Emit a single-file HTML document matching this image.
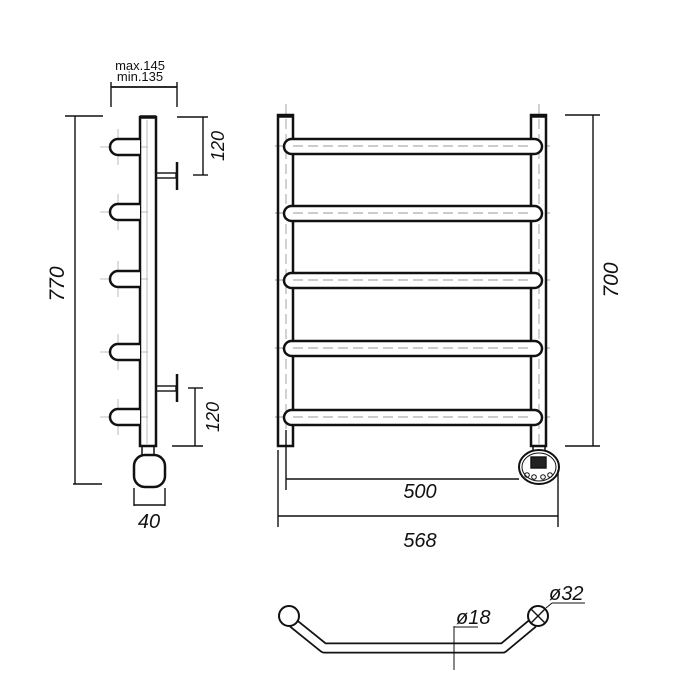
<!DOCTYPE html>
<html><head><meta charset="utf-8"><style>
html,body{margin:0;padding:0;background:#fff}
svg{display:block}
text{font-family:"Liberation Sans",sans-serif;fill:#111}
</style></head><body>
<svg width="700" height="700" viewBox="0 0 700 700" xmlns="http://www.w3.org/2000/svg">
<rect width="700" height="700" fill="#fff"/>
<g stroke="#111" fill="none" stroke-width="1.4">
<line x1="111" y1="87" x2="177" y2="87" stroke-width="1.8"/>
<line x1="111" y1="82" x2="111" y2="107"/>
<line x1="177" y1="82" x2="177" y2="107"/>
<line x1="75" y1="116" x2="75" y2="484"/>
<line x1="65" y1="116" x2="103" y2="116"/>
<line x1="73" y1="484" x2="102" y2="484"/>
<g stroke="#aaa" stroke-width="0.8">
<line x1="100" y1="147" x2="148" y2="147"/><line x1="118" y1="129" x2="118" y2="165"/>
<line x1="100" y1="212" x2="148" y2="212"/><line x1="118" y1="194" x2="118" y2="230"/>
<line x1="100" y1="279" x2="148" y2="279"/><line x1="118" y1="261" x2="118" y2="297"/>
<line x1="100" y1="352" x2="148" y2="352"/><line x1="118" y1="334" x2="118" y2="370"/>
<line x1="100" y1="417" x2="148" y2="417"/><line x1="118" y1="399" x2="118" y2="435"/>
<line x1="147" y1="120" x2="147" y2="444"/>
</g>
<path d="M140 117 H156 V446 H140 Z" stroke-width="2.5"/>
<line x1="140" y1="117" x2="156" y2="117" stroke-width="3.5"/>
<g stroke-width="2.5" fill="#fff">
<path d="M140 139 H118 A8 8 0 0 0 118 155 H140"/>
<path d="M140 204 H118 A8 8 0 0 0 118 220 H140"/>
<path d="M140 271 H118 A8 8 0 0 0 118 287 H140"/>
<path d="M140 344 H118 A8 8 0 0 0 118 360 H140"/>
<path d="M140 409 H118 A8 8 0 0 0 118 425 H140"/>
</g>
<rect x="156" y="173" width="20" height="5"/>
<path d="M177 162 V190" stroke-width="2.5"/>
<rect x="156" y="386" width="20" height="5"/>
<path d="M177 374 V402" stroke-width="2.5"/>
<line x1="177" y1="117" x2="208" y2="117"/>
<line x1="203" y1="117" x2="203" y2="175"/>
<line x1="193" y1="175" x2="208" y2="175"/>
<line x1="188" y1="388" x2="203" y2="388"/>
<line x1="195" y1="388" x2="195" y2="446"/>
<line x1="172" y1="446" x2="203" y2="446"/>
<rect x="142" y="446" width="12" height="9" stroke-width="1.5"/>
<rect x="134" y="455" width="31" height="32" rx="11" stroke-width="2.5"/>
<line x1="134" y1="488" x2="134" y2="506"/>
<line x1="165" y1="488" x2="165" y2="506"/>
<line x1="134" y1="505" x2="165" y2="505"/>

<g stroke="#999" stroke-width="0.9" stroke-dasharray="10 5">
<line x1="286" y1="104" x2="286" y2="450"/>
<line x1="539" y1="104" x2="539" y2="450"/>
<line x1="275" y1="146" x2="550" y2="146"/>
<line x1="275" y1="213" x2="550" y2="213"/>
<line x1="275" y1="280" x2="550" y2="280"/>
<line x1="275" y1="348" x2="550" y2="348"/>
<line x1="275" y1="417" x2="550" y2="417"/>
</g>
<path d="M278 115 H293 V446 H278 Z" stroke-width="2.5"/>
<path d="M531 115 H546 V446 H531 Z" stroke-width="2.5"/>
<line x1="279" y1="116" x2="292" y2="116" stroke-width="3.5"/>
<line x1="532" y1="116" x2="545" y2="116" stroke-width="3.5"/>
<g stroke-width="2.5">
<rect x="284" y="139" width="258" height="15" rx="7.5" fill="#fff"/>
<rect x="284" y="206" width="258" height="15" rx="7.5" fill="#fff"/>
<rect x="284" y="273" width="258" height="15" rx="7.5" fill="#fff"/>
<rect x="284" y="341" width="258" height="15" rx="7.5" fill="#fff"/>
<rect x="284" y="410" width="258" height="15" rx="7.5" fill="#fff"/>
</g>
<g stroke="#999" stroke-width="0.9" stroke-dasharray="10 5">
<line x1="293" y1="146" x2="531" y2="146"/>
<line x1="293" y1="213" x2="531" y2="213"/>
<line x1="293" y1="280" x2="531" y2="280"/>
<line x1="293" y1="348" x2="531" y2="348"/>
<line x1="293" y1="417" x2="531" y2="417"/>
</g>
<rect x="533" y="446" width="12" height="9" stroke-width="1.5"/>
<ellipse cx="539" cy="467" rx="20" ry="17" stroke-width="2" fill="#fff"/>
<ellipse cx="539" cy="467" rx="17" ry="14" stroke-width="1"/>
<rect x="531" y="457" width="15" height="11" fill="#222"/>
<circle cx="527" cy="475" r="2.3" stroke-width="1"/><circle cx="534" cy="477" r="2.3" stroke-width="1"/>
<circle cx="543" cy="477" r="2.3" stroke-width="1"/><circle cx="550" cy="475" r="2.3" stroke-width="1"/>
<line x1="286" y1="430" x2="286" y2="490"/>
<line x1="286" y1="479" x2="519" y2="479"/>
<line x1="278" y1="450" x2="278" y2="527"/>
<line x1="558" y1="470" x2="558" y2="527"/>
<line x1="278" y1="516" x2="558" y2="516"/>
<line x1="565" y1="115" x2="600" y2="115"/>
<line x1="565" y1="446" x2="600" y2="446"/>
<line x1="593" y1="115" x2="593" y2="446"/>

<path d="M293 623 L324 648 H503 L533 623" stroke-width="11" stroke-linejoin="round"/>
<path d="M293 623 L324 648 H503 L533 623" stroke="#fff" stroke-width="7.5" stroke-linejoin="round"/>
<circle cx="289" cy="616" r="10" stroke-width="2" fill="#fff"/>
<circle cx="538" cy="616" r="10" stroke-width="2" fill="#fff"/>
<line x1="531" y1="609" x2="545" y2="623"/><line x1="545" y1="609" x2="531" y2="623"/>
<line x1="454" y1="626" x2="454" y2="670" stroke-width="1"/>
<line x1="454" y1="627" x2="478" y2="627" stroke-width="1"/>
<line x1="546" y1="608" x2="552" y2="603" stroke-width="1"/>
<line x1="552" y1="603" x2="585" y2="603" stroke-width="1"/>
</g>
<text x="140" y="70" font-size="13" text-anchor="middle">max.145</text>
<text x="140" y="81" font-size="13" text-anchor="middle">min.135</text>
<text transform="translate(64,284) rotate(-90)" font-size="21" font-style="italic" text-anchor="middle">770</text>
<text transform="translate(224,146) rotate(-90)" font-size="18" font-style="italic" text-anchor="middle">120</text>
<text transform="translate(219,417) rotate(-90)" font-size="18" font-style="italic" text-anchor="middle">120</text>
<text x="149" y="528" font-size="20" font-style="italic" text-anchor="middle">40</text>
<text x="420" y="498" font-size="20" font-style="italic" text-anchor="middle">500</text>
<text x="420" y="547" font-size="20" font-style="italic" text-anchor="middle">568</text>
<text transform="translate(618,280) rotate(-90)" font-size="21" font-style="italic" text-anchor="middle">700</text>
<text x="456" y="624" font-size="20" font-style="italic">ø18</text>
<text x="549" y="600" font-size="20" font-style="italic">ø32</text>
</svg>
</body></html>
